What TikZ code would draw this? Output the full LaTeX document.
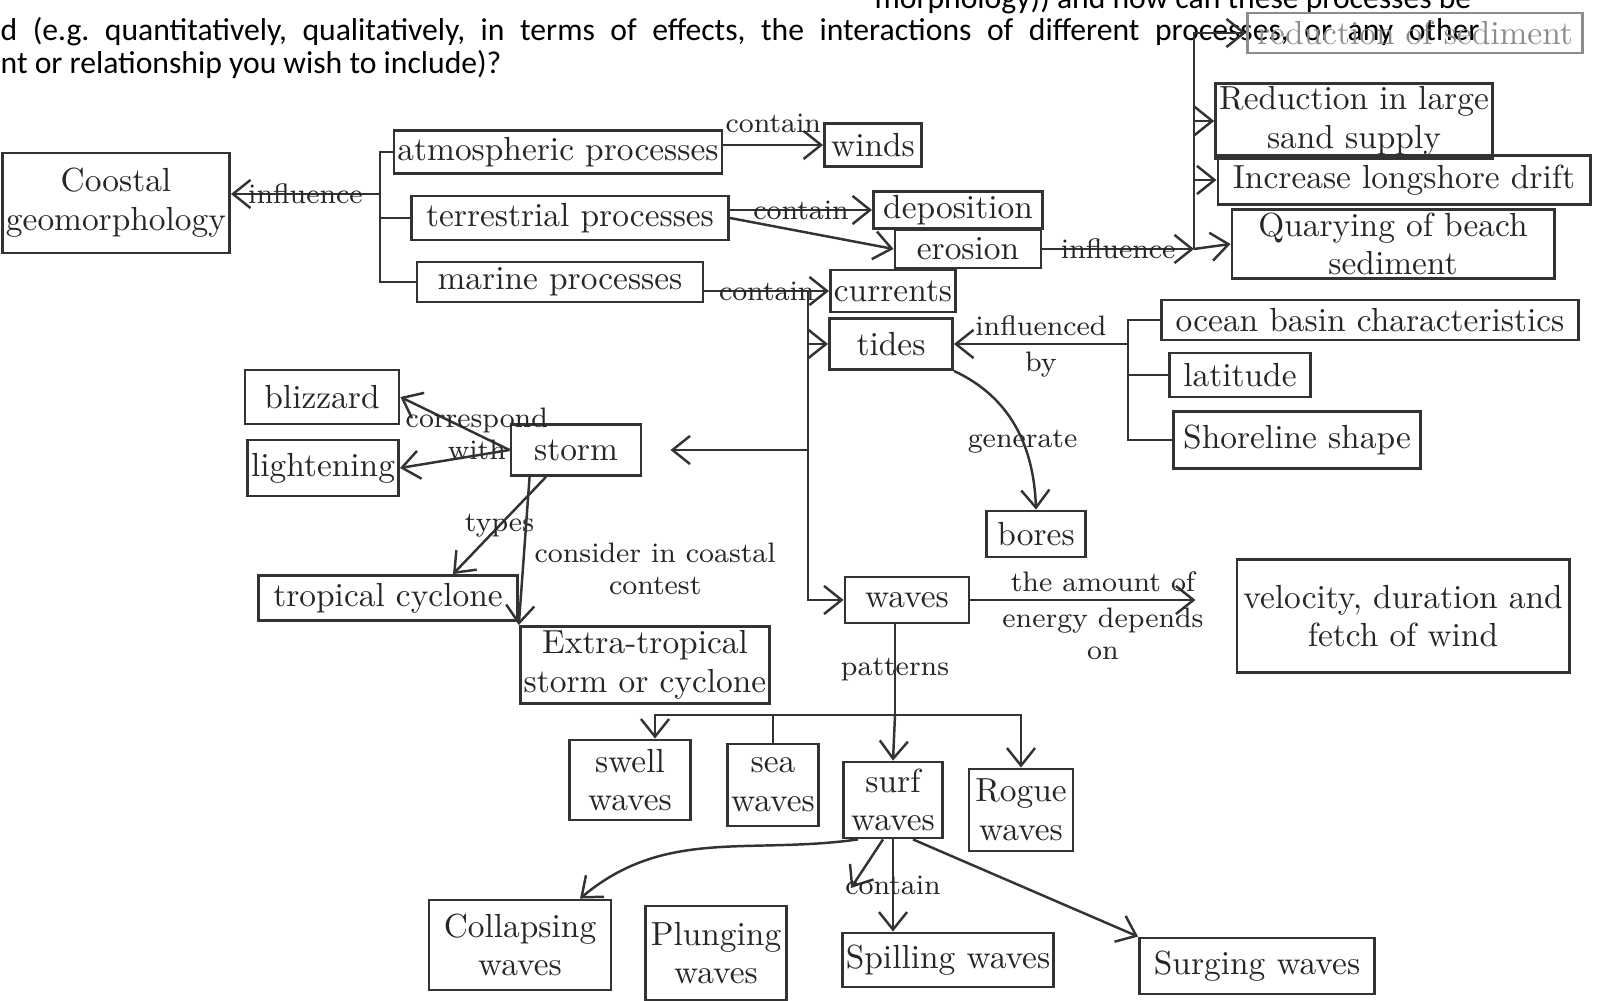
\documentclass[tikz,border=0pt]{standalone}
\usepackage{fontspec}
\newfontfamily\printfont{Carlito}
\usetikzlibrary{arrows.meta}

\begin{document}
\begin{tikzpicture}[x=0.01cm,y=-0.01cm,
  box/.style={draw=black!80, line width=0.8pt, inner sep=1pt, align=center, text=black!85, font=\fontsize{9.5}{11}\selectfont},
  lbl/.style={text=black!85, font=\fontsize{8}{9}\selectfont, align=center, inner sep=1pt},
  prt/.style={inner sep=0pt, font=\printfont\fontsize{9}{11}\selectfont\frenchspacing},
  arr/.style={->, >={Straight Barb[length=5pt,width=8pt]}, line width=0.7pt, draw=black!80},
  ln/.style={line width=0.7pt, draw=black!80}]
\useasboundingbox (0,0) rectangle (1603,1001);
\clip (0,0) rectangle (1603,1001);

% printed question on the sheet
\node[prt, anchor=base east] (q0) at (1472,9) {morphology)) and how can these processes be};
\node[prt, anchor=base west] (q1) at (0,41) {\makebox[14.78cm][s]{d (e.g. quantitatively, qualitatively, in terms of effects, the interactions of different processes, or any other}};
\node[prt, anchor=base west] (q2) at (0,74) {nt or relationship you wish to include)?};

% concept map
\node[box, minimum width=2.02cm, minimum height=1cm] (geo) at (116,203) {Coostal\\geomorphology};
\node[box, minimum width=3.04cm, minimum height=0.43cm] (atm) at (558,152) {atmospheric processes};
\node[box, minimum width=3.17cm, minimum height=0.44cm] (ter) at (570,218) {terrestrial processes};
\node[box, minimum width=2.86cm, minimum height=0.40cm] (mar) at (560,282) {marine processes};
\node[box, minimum width=0.97cm, minimum height=0.43cm] (winds) at (873,145) {winds};
\node[box, minimum width=1.69cm, minimum height=0.33cm] (dep) at (958,210) {deposition};
\node[box, minimum width=1.46cm, minimum height=0.38cm] (ero) at (968,249) {erosion};
\node[box, draw=black!45, text=black!45, minimum width=3.35cm, minimum height=0.40cm] (redsed) at (1415,33) {reduction of sediment};
\node[box, minimum width=2.72cm, minimum height=0.63cm] (redsand) at (1354,121) {Reduction in large\\sand supply};
\node[box, minimum width=3.72cm, minimum height=0.49cm] (drift) at (1404,180) {Increase longshore drift};
\node[box, minimum width=3.22cm, minimum height=0.68cm] (quarry) at (1393,244) {Quarying of beach\\sediment};
\node[box, minimum width=1.13cm, minimum height=0.42cm] (cur) at (893,291) {currents};
\node[box, minimum width=1.23cm, minimum height=0.51cm] (tides) at (891,344) {tides};
\node[box, minimum width=4.17cm, minimum height=0.40cm] (ocean) at (1370,320) {ocean basin characteristics};
\node[box, minimum width=1.41cm, minimum height=0.44cm] (lat) at (1240,375) {latitude};
\node[box, minimum width=2.47cm, minimum height=0.57cm] (shore) at (1297,440) {Shoreline shape};
\node[box, minimum width=0.99cm, minimum height=0.46cm] (bores) at (1036,534) {bores};
\node[box, minimum width=1.30cm, minimum height=0.51cm] (storm) at (576,450) {storm};
\node[box, minimum width=1.54cm, minimum height=0.54cm] (bliz) at (322,397) {blizzard};
\node[box, minimum width=1.51cm, minimum height=0.56cm] (light) at (323,468) {lightening};
\node[box, minimum width=2.59cm, minimum height=0.45cm] (trop) at (388,598) {tropical cyclone};
\node[box, minimum width=2.17cm, minimum height=0.77cm] (extra) at (645,665) {Extra-tropical\\storm or cyclone};
\node[box, minimum width=1.24cm, minimum height=0.46cm] (waves) at (907,600) {waves};
\node[box, minimum width=3.32cm, minimum height=1.13cm] (vel) at (1403,616) {velocity, duration and\\fetch of wind};
\node[box, minimum width=1.21cm, minimum height=0.80cm] (swell) at (630,780) {swell\\waves};
\node[box, minimum width=0.90cm, minimum height=0.82cm] (sea) at (773,785) {sea\\waves};
\node[box, minimum width=0.99cm, minimum height=0.76cm] (surf) at (893,800) {surf\\waves};
\node[box, minimum width=1.04cm, minimum height=0.82cm] (rogue) at (1021,810) {Rogue\\waves};
\node[box, minimum width=1.82cm, minimum height=0.90cm] (coll) at (520,945) {Collapsing\\waves};
\node[box, minimum width=1.41cm, minimum height=0.94cm] (plung) at (716,953) {Plunging\\waves};
\node[box, minimum width=2.00cm, minimum height=0.54cm] (spill) at (948,960) {Spilling waves};
\node[box, minimum width=2.35cm, minimum height=0.56cm] (surg) at (1257,966) {Surging waves};

\coordinate (brk) at (380,194);
\coordinate (infl) at (1194,249);
\coordinate (mj) at (808,291);
\coordinate (ib) at (1128,344);
\coordinate (pj) at (895,715);
\coordinate (plc) at (851,888);

% processes
\draw[ln] (atm.west) -| (brk |- mar.west) -- (mar.west);
\draw[ln] (ter.west) -- (brk |- ter.west);
\draw[arr] (brk) -- node[lbl] (linf) {influence} (geo.east |- brk);
\draw[arr] (atm.east |- winds.west) -- node[lbl, above=2pt] (lcw) {contain} (winds.west);
\draw[arr] (ter.east |- dep.west) -- node[lbl] (lcd) {contain} (dep.west);
\draw[arr] (ter.east) -- (ero.west);
\draw[arr] (ero.east) -- node[lbl] (lie) {influence} (infl);
\draw[arr] (infl) |- (redsed.west);
\draw[arr] (infl |- redsand.west) -- (redsand.west);
\draw[arr] (infl |- drift.west) -- (drift.west);
\draw[arr] (infl) -- (quarry.west);
\draw[arr] (mar.east |- cur.west) -- node[lbl] (lcc) {contain} (cur.west);
\draw[arr] (mj) |- (tides.west);
\draw[arr] (mj) |- (waves.west);
\draw[arr, shorten >=0.28cm] (storm.east -| mj) -- (storm.east);

% tides
\draw[ln] (ocean.west) -| (ib |- shore.west) -- (shore.west);
\draw[ln] (lat.west) -- (ib |- lat.west);
\draw[arr] (ib) -- node[lbl, above=1pt] (lib) {influenced} node[lbl, below=1pt] (lby) {by} (tides.east);
\draw[arr] (tides.south east) to[out=-25,in=92] node[lbl, pos=0.6] (lgen) {generate} (bores.north);

% storm
\draw[arr] (storm.west) -- node[lbl, pos=0.3] (lcor) {correspond\\with} (bliz.east);
\draw[arr] (storm.west) -- (light.east);
\draw[arr] ([xshift=-0.3cm]storm.south) -- node[lbl] (ltyp) {types} ([xshift=0.65cm]trop.north);
\draw[arr] ([xshift=0.2cm]storm.south west) -- node[lbl, right=2pt, pos=0.62] (lcon) {consider in coastal\\contest} (extra.north west);

% waves
\draw[arr, shorten >=0.4cm] (waves.east) -- node[lbl, above=1pt] (lamt) {the amount of} node[lbl, below=1pt] (ldep) {energy depends\\on} (vel.west |- waves.east);
\draw[ln] (waves.south -| pj) -- node[lbl] (lpat) {patterns} (pj);
\draw[arr] (pj) -| ([xshift=0.25cm]swell.north);
\draw[ln] (sea.north |- pj) -- (sea.north);
\draw[arr] (pj) -- (surf.north);
\draw[arr] (pj) -| (rogue.north);
\draw[arr] ([xshift=-0.35cm]surf.south) to[out=188,in=40] ([xshift=0.6cm]coll.north);
\draw[arr] ([xshift=-0.1cm]surf.south) -- (plc);
\draw[arr] (surf.south) -- node[lbl] (lcs) {contain} (surf.south |- spill.north);
\draw[arr] ([xshift=0.2cm]surf.south) -- (surg.north west);
\end{tikzpicture}
\end{document}
